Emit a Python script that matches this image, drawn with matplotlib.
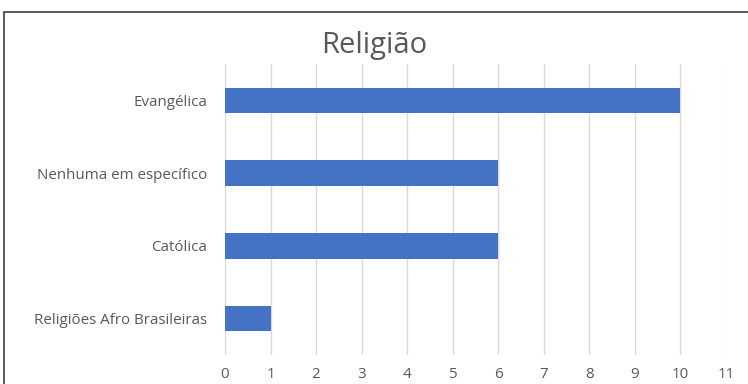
import matplotlib
matplotlib.use("Agg")
import matplotlib.pyplot as plt
from matplotlib.patches import Rectangle

# dados do gráfico (de cima para baixo)
categorias = ["Evangélica", "Nenhuma em específico", "Católica", "Religiões Afro Brasileiras"]
valores = [10, 6, 6, 1]
ticks_x = list(range(0, 12))

cinza = "#595959"
azul = "#4472C4"

plt.rcParams['font.family'] = ['Open Sans', 'DejaVu Sans']

fig = plt.figure(figsize=(7.48, 3.84), dpi=100)
fig.patch.set_facecolor("white")

# moldura do gráfico (cortada à direita e embaixo)
fig.patches.append(Rectangle((4 / 748, -0.2), 1.2, (384 - 12) / 384 + 0.2,
                             transform=fig.transFigure, fill=False,
                             edgecolor="#404040", linewidth=1.2))

ax = fig.add_axes([225 / 748, 29 / 384, 501 / 748, 291 / 384])

pos = list(range(len(categorias)))[::-1]
ax.barh(pos, valores, height=0.35, color=azul, zorder=3)

ax.set_xlim(0, 11)
ax.set_ylim(-0.5, 3.5)
ax.set_xticks(ticks_x)
ax.set_yticks(pos)
ax.set_yticklabels(categorias)
ax.grid(axis="x", color="#d9d9d9", linewidth=1, zorder=0)
for s in ax.spines.values():
    s.set_visible(False)
ax.tick_params(axis="both", length=0, colors=cinza, labelsize=10.9)
ax.tick_params(axis="y", pad=13)
ax.tick_params(axis="x", pad=9)

fig.text(374 / 748, (384 - 45) / 384, "Religião", ha="center", va="center",
         fontsize=21, color=cinza)

plt.savefig("out.png", dpi=100)
